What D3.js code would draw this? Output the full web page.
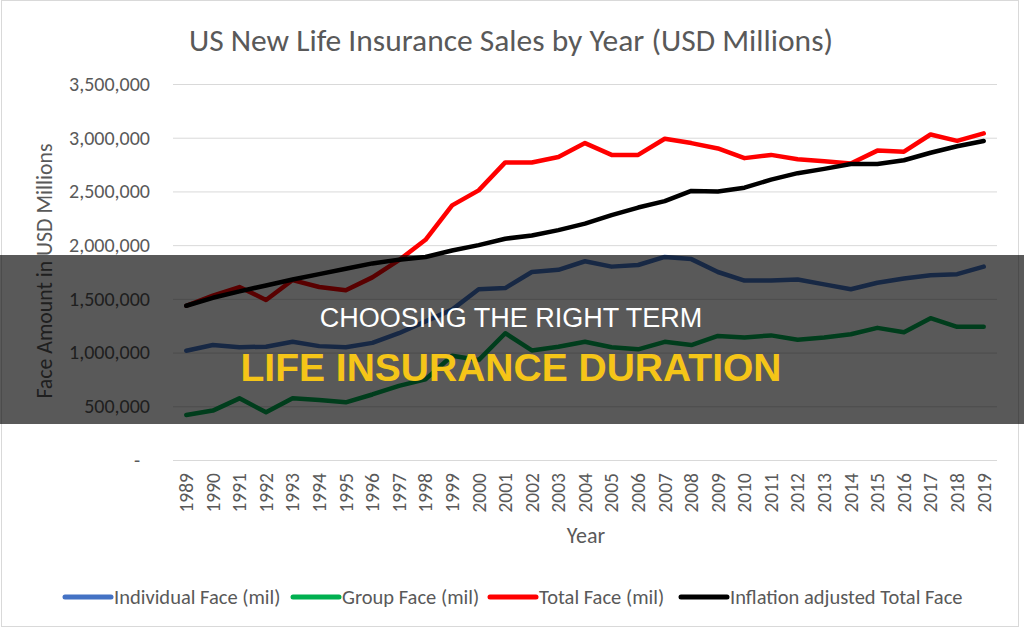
<!DOCTYPE html>
<html>
<head>
<meta charset="utf-8">
<script src="https://cdn.jsdelivr.net/npm/d3@7"></script>
<style>
  html, body { margin: 0; padding: 0; background: #fff; }
  svg { display: block; }
  .calib { font-family: Carlito, Lato, "Open Sans", sans-serif; }
</style>
</head>
<body>
<svg id="chart" width="1024" height="630"></svg>
<script>
const years = ["1989","1990","1991","1992","1993","1994","1995","1996","1997","1998","1999","2000","2001","2002","2003","2004","2005","2006","2007","2008","2009","2010","2011","2012","2013","2014","2015","2016","2017","2018","2019"];
const individualFace = [1017000,1070000,1050000,1055000,1100000,1060000,1050000,1090000,1180000,1290000,1400000,1590000,1600000,1750000,1770000,1850000,1800000,1815000,1890000,1870000,1750000,1670000,1670000,1680000,1635000,1590000,1650000,1690000,1720000,1730000,1800000];
const groupFace = [419000,460000,574000,444000,574000,558000,537000,610000,690000,750000,970000,930000,1180000,1020000,1055000,1100000,1050000,1030000,1100000,1070000,1155000,1140000,1160000,1120000,1140000,1170000,1230000,1190000,1320000,1240000,1240000];
const totalFace = [1436000,1530000,1610000,1490000,1675000,1610000,1580000,1700000,1860000,2050000,2370000,2510000,2770000,2770000,2820000,2950000,2840000,2840000,2990000,2950000,2900000,2810000,2840000,2800000,2780000,2760000,2880000,2870000,3030000,2970000,3040000];
const inflationAdjusted = [1436000,1510000,1570000,1625000,1680000,1730000,1780000,1830000,1865000,1890000,1950000,2000000,2060000,2090000,2140000,2200000,2280000,2350000,2410000,2505000,2500000,2535000,2610000,2670000,2710000,2755000,2755000,2790000,2860000,2920000,2970000];
const yTicks = [0,500000,1000000,1500000,2000000,2500000,3000000,3500000];
const seriesNames = ["Individual Face (mil)","Group Face (mil)","Total Face (mil)","Inflation adjusted Total Face"];
const seriesColors = ["#4472C4","#00B050","#FF0000","#000000"];
const titleText = "US New Life Insurance Sales by Year (USD Millions)";
const yTitle = "Face Amount in USD Millions";
const xTitle = "Year";
const bannerLine1 = "CHOOSING THE RIGHT TERM";
const bannerLine2 = "LIFE INSURANCE DURATION";

const seriesValues = [individualFace, groupFace, totalFace, inflationAdjusted];

const svg = d3.select("#chart");
const plotLeft = 173, plotRight = 997, plotTop = 84, plotBottom = 460;

// chart border
svg.append("rect").attr("x", 1.5).attr("y", 0.5).attr("width", 1017).attr("height", 626)
  .attr("fill", "#fff").attr("stroke", "#d9d9d9").attr("stroke-width", 1);

const x = d3.scaleBand().domain(years).range([plotLeft, plotRight]);
const y = d3.scaleLinear().domain([0, 3500000]).range([plotBottom, plotTop]);

// title
svg.append("text").attr("class", "calib")
  .attr("x", 511).attr("y", 51).attr("text-anchor", "middle")
  .attr("font-size", 31.5).attr("fill", "#595959").text(titleText);

// gridlines + y axis
const yAxis = svg.append("g").attr("transform", `translate(${plotLeft},0)`)
  .call(d3.axisLeft(y).tickValues(yTicks).tickSize(-(plotRight - plotLeft)).tickPadding(23)
    .tickFormat(d => d === 0 ? "-" : d3.format(",")(d)));
yAxis.select(".domain").remove();
yAxis.selectAll(".tick line").attr("stroke", "#d9d9d9").attr("stroke-width", 1);
yAxis.selectAll(".tick text").attr("class", "calib").attr("font-size", 20).attr("fill", "#595959");
yAxis.selectAll(".tick").filter(d => d === 0).select("text").attr("x", -33);

// x axis labels
const xAxis = svg.append("g").attr("transform", `translate(0,${plotBottom})`)
  .call(d3.axisBottom(x).tickSize(0).tickPadding(0));
xAxis.select(".domain").remove();
xAxis.selectAll(".tick text").attr("class", "calib")
  .attr("font-size", 19.5).attr("fill", "#595959")
  .attr("transform", "translate(0,13) rotate(-90)")
  .attr("text-anchor", "end").attr("dy", "0.35em").attr("y", 0).attr("x", 0);

// axis titles
svg.append("text").attr("class", "calib")
  .attr("transform", "translate(52,271) rotate(-90)").attr("text-anchor", "middle")
  .attr("font-size", 21.8).attr("fill", "#595959").text(yTitle);
svg.append("text").attr("class", "calib")
  .attr("x", 586).attr("y", 543).attr("text-anchor", "middle")
  .attr("font-size", 22).attr("fill", "#595959").text(xTitle);

// lines
const line = d3.line().x((d, i) => x(years[i]) + x.bandwidth() / 2).y(d => y(d));
seriesValues.forEach((vals, k) => {
  svg.append("path").datum(vals).attr("d", line)
    .attr("fill", "none").attr("stroke", seriesColors[k]).attr("stroke-width", 4.5)
    .attr("stroke-linejoin", "round").attr("stroke-linecap", "round");
});

// legend
const legendX = [65, 293, 490, 681];
const lg = svg.append("g");
seriesNames.forEach((name, k) => {
  lg.append("line").attr("x1", legendX[k]).attr("x2", legendX[k] + 46)
    .attr("y1", 597).attr("y2", 597).attr("stroke", seriesColors[k]).attr("stroke-width", 5)
    .attr("stroke-linecap", "round");
  lg.append("text").attr("class", "calib").attr("x", legendX[k] + 49).attr("y", 597)
    .attr("dy", "0.35em").attr("font-size", 20.5).attr("fill", "#595959").text(name);
});

// banner overlay
svg.append("rect").attr("x", 0).attr("y", 255).attr("width", 1024).attr("height", 169)
  .attr("fill", "rgba(0,0,0,0.65)");
svg.append("text").attr("x", 511).attr("y", 327).attr("text-anchor", "middle")
  .attr("font-family", "'Liberation Sans', Arial, sans-serif").attr("font-size", 27)
  .attr("fill", "#ffffff").text(bannerLine1);
svg.append("text").attr("x", 511).attr("y", 381).attr("text-anchor", "middle")
  .attr("font-family", "'Liberation Sans', Arial, sans-serif").attr("font-weight", "bold")
  .attr("font-size", 39).attr("fill", "#F5C518").text(bannerLine2);
</script>
</body>
</html>
